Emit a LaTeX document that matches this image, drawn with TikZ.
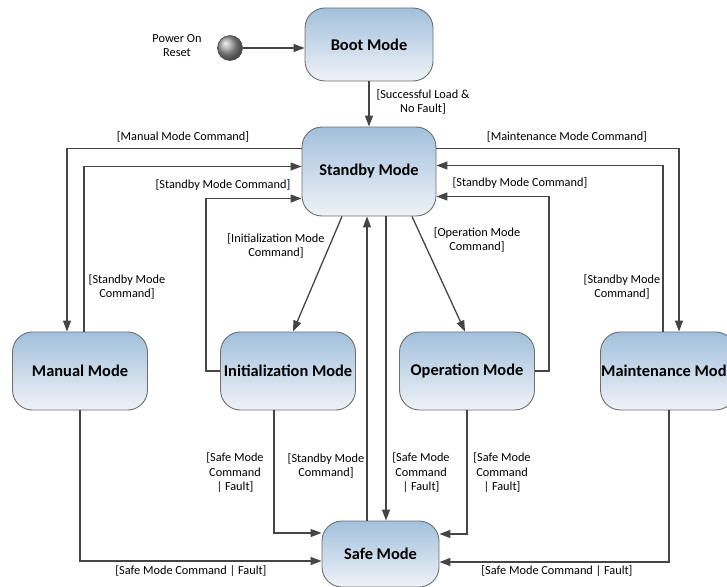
\documentclass[tikz,border=0pt]{standalone}
\usepackage{fontspec}
\setmainfont{Carlito}
\usetikzlibrary{arrows.meta}
\definecolor{boxtop}{HTML}{A2C0DC}
\definecolor{boxbot}{HTML}{EFF2F7}
\definecolor{edge}{HTML}{6E6E6E}
\definecolor{wire}{HTML}{454545}
\newcommand{\lbl}{\fontsize{12.3}{14.5}\selectfont}

\begin{document}
\begin{tikzpicture}[x=1pt,y=-1pt,
	mode/.style={draw=edge,line width=0.9pt,rounded corners=20pt,top color=boxtop,bottom color=boxbot,
		minimum width=135pt,minimum height=78pt,inner sep=0pt,font=\fontsize{16.4}{19}\selectfont\bfseries},
	txt/.style={inner sep=0pt,align=center,font=\lbl},
	go/.style={draw=wire,line width=1.3pt,-{Triangle[length=11pt,width=8pt]}}]
		\useasboundingbox (0,0) rectangle (727,586);
		
		\node[mode,minimum width=128pt,minimum height=73pt] (boot) at (369,44.5) {Boot Mode};
		\node[mode,minimum width=134pt,minimum height=89pt] (standby) at (369,171.5) {Standby Mode};
		\node[mode] (manual) at (80,371) {Manual Mode};
		\node[mode] (init) at (288,371) {Initialization Mode};
		\node[mode] (oper) at (467,371) {Operation Mode};
		\node[mode] (maint) at (668,371) {Maintenance Mode};
		\node[mode,minimum width=117pt,minimum height=66pt] (safe) at (380.5,554) {Safe Mode};
		
		\node[circle,draw=black!70,line width=0.6pt,minimum size=25pt,shading=ball,ball color=gray!75] (start) at (230,48) {};
		\node[txt] (por) at (177,45.5) {Power On\\Reset};
		
		\draw[go] (start) to (boot.west |- start);
		\draw[go] (boot) to (standby);
		
		\draw[go] ([yshift=23]standby.west) -| ([xshift=-13]manual.north);
		\draw[go] ([xshift=4]manual.north) |- ([yshift=5]standby.west);
		\draw[go] (init.west) -- ++(-14,0) |- ([yshift=-27]standby.west);
		\draw[go] ([xshift=-27]standby.south) to ([xshift=5]init.north);
		\draw[go] ([xshift=43]standby.south) to ([xshift=-2]oper.north);
		\draw[go] (oper.east) -- ++(14,0) |- ([yshift=-25]standby.east);
		\draw[go] ([yshift=23]standby.east) -| ([xshift=11]maint.north);
		\draw[go] ([xshift=-5]maint.north) |- ([yshift=6]standby.east);
		
		\draw[go] ([xshift=-13.5]safe.north) to ([xshift=-2]standby.south);
		\draw[go] ([xshift=17]standby.south) to ([xshift=5.5]safe.north);
		\draw[go] ([xshift=-14]init.south) |- ([yshift=21]safe.west);
		\draw[go] (manual.south) |- ([yshift=-7]safe.west);
		\draw[go] (oper.south) |- ([yshift=20]safe.east);
		\draw[go] ([xshift=1]maint.south) |- ([yshift=-8]safe.east);
		
		\node[txt] (a) at (423,102) {[Successful Load \&\\No Fault]};
		\node[txt] (b) at (183,137) {[Manual Mode Command]};
		\node[txt] (c) at (127,287) {[Standby Mode\\Command]};
		\node[txt] (d) at (223,185) {[Standby Mode Command]};
		\node[txt] (e) at (276,246) {[Initialization Mode\\Command]};
		\node[txt] (f) at (477,240) {[Operation Mode\\Command]};
		\node[txt] (g) at (520,183) {[Standby Mode Command]};
		\node[txt] (h) at (567,137) {[Maintenance Mode Command]};
		\node[txt] (i) at (622,287) {[Standby Mode\\Command]};
		\node[txt] (j) at (235,473) {[Safe Mode\\Command\\| Fault]};
		\node[txt] (k) at (326,466) {[Standby Mode\\Command]};
		\node[txt] (l) at (421,473) {[Safe Mode\\Command\\| Fault]};
		\node[txt] (m) at (502,473) {[Safe Mode\\Command\\| Fault]};
		\node[txt] (n) at (191,571) {[Safe Mode Command | Fault]};
		\node[txt] (o) at (557,571) {[Safe Mode Command | Fault]};
	\end{tikzpicture}
\end{document}
